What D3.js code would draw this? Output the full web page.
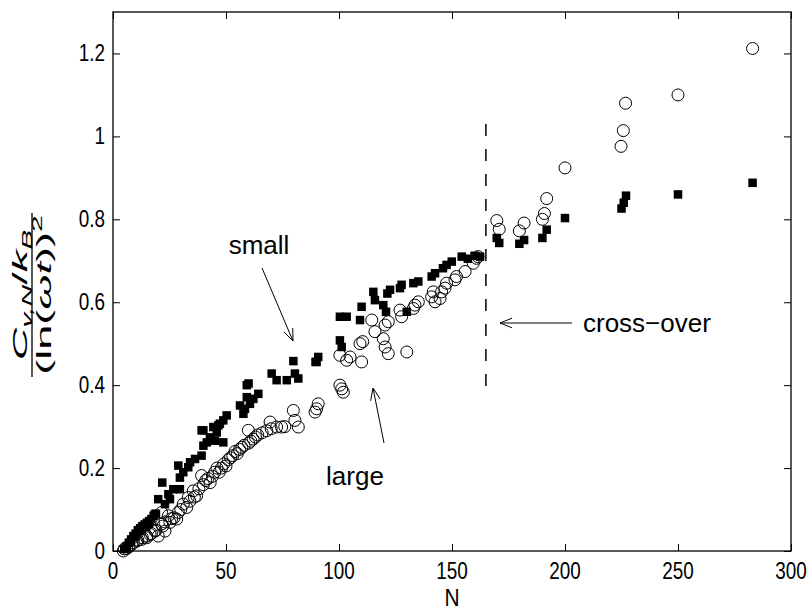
<!DOCTYPE html>
<html>
<head>
<meta charset="utf-8">
<script src="https://cdn.jsdelivr.net/npm/d3@7/dist/d3.min.js"></script>
<style>
  html, body { margin: 0; padding: 0; background: #fff; }
  svg { display: block; }
  text { font-family: "Liberation Sans", Arial, Helvetica, sans-serif; }
</style>
</head>
<body>
<svg id="chart" width="812" height="610"></svg>
<script>
// ---------- data ----------
const xTickValues = [0, 50, 100, 150, 200, 250, 300];
const xTickLabels = ["0", "50", "100", "150", "200", "250", "300"];
const yTickValues = [0, 0.2, 0.4, 0.6, 0.8, 1.0, 1.2];
const yTickLabels = ["0", "0.2", "0.4", "0.6", "0.8", "1", "1.2"];

// "small" series (filled squares)
const smallN = [5,6,6,7,8,8,9,10,10,11,12,12,13,14,14,15,16,16,17,18,18.6,19,20,21.8,23,24.5,25.2,26.7,28.9,29.6,29.6,31.1,33.3,34.1,36.3,39.2,40,39.2,40,41.5,42.9,44.4,45.1,45.9,46.6,47.3,48.8,48.8,50.3,56.2,57.7,58.4,59.2,59.2,60,60.6,62.1,64.3,70.2,72.4,76.9,79.8,80.5,82,89.6,90.1,90.8,100.4,101.2,100.4,103.4,109.3,110,115.2,115.9,119.6,120.8,121.4,122.6,127,127.7,130,132.9,135.1,141,142.5,146,147.6,149.9,154.3,157,160,162.4,169.8,170.9,179.8,181.9,190,191.9,200,225,226,227,250,283];
const smallV = [0.005,0.008,0.012,0.02,0.022,0.028,0.036,0.035,0.042,0.05,0.048,0.055,0.06,0.058,0.064,0.068,0.066,0.072,0.077,0.085,0.089,0.09,0.125,0.165,0.113,0.137,0.125,0.149,0.206,0.149,0.177,0.19,0.202,0.214,0.222,0.23,0.254,0.291,0.291,0.262,0.274,0.299,0.266,0.286,0.303,0.307,0.262,0.315,0.327,0.351,0.331,0.343,0.371,0.40,0.404,0.355,0.367,0.379,0.428,0.412,0.412,0.458,0.428,0.416,0.456,0.456,0.468,0.508,0.492,0.565,0.565,0.557,0.589,0.625,0.605,0.593,0.577,0.621,0.63,0.634,0.642,0.577,0.646,0.65,0.662,0.67,0.682,0.69,0.698,0.71,0.705,0.712,0.71,0.755,0.743,0.741,0.75,0.755,0.775,0.803,0.826,0.84,0.857,0.86,0.888];

// "large" series (open circles)
const largeN = [4.6,5,6.1,7,8.3,9,10.5,11,12.7,13,14.9,15,16.4,17,18.6,19,20,21.5,21.5,22,23,23,24.5,25.2,26,27,28.2,28.9,30,31.1,32.6,33.3,34,35.5,36,37,38,39.2,40,41,42,43,44,45,46,47,48,49,50,51,52,53,54,55,56,57,58,59.9,60,61,62,63,64,66,68,69.5,70,72.4,74.6,76,79.8,80.5,82,89.4,90.1,90.8,100.4,101.2,101.9,100.4,103.4,104.9,109.3,110,110.5,114.5,115.9,119.6,120.4,121.8,120.4,121.8,127,127.7,130,132.9,133.6,135.1,141,141.7,142.5,144.7,145.4,146.9,147.6,151.3,152,155.8,159.4,160.9,161.5,169.8,170.9,179.8,181.9,190,190.9,191.9,200,224.8,225.8,226.8,250,283];
const largeV = [0.0,0.005,0.006,0.01,0.016,0.02,0.024,0.026,0.028,0.032,0.032,0.036,0.04,0.042,0.048,0.05,0.036,0.065,0.093,0.06,0.048,0.07,0.085,0.069,0.078,0.08,0.077,0.093,0.1,0.113,0.105,0.129,0.12,0.145,0.13,0.133,0.15,0.182,0.16,0.17,0.175,0.165,0.18,0.19,0.2,0.19,0.2,0.21,0.205,0.22,0.225,0.23,0.24,0.235,0.245,0.25,0.255,0.291,0.26,0.265,0.27,0.275,0.28,0.285,0.29,0.311,0.295,0.299,0.299,0.3,0.339,0.315,0.299,0.335,0.343,0.355,0.4,0.391,0.383,0.472,0.46,0.468,0.5,0.456,0.505,0.557,0.529,0.512,0.492,0.476,0.545,0.553,0.581,0.565,0.48,0.585,0.593,0.601,0.613,0.625,0.601,0.609,0.625,0.634,0.646,0.654,0.662,0.674,0.694,0.706,0.71,0.797,0.776,0.772,0.791,0.80,0.814,0.85,0.924,0.976,1.014,1.08,1.10,1.212];

const crossOverN = 165;
const crossOverRange = [0.39, 1.03];

// ---------- layout ----------
const W = 812, H = 610;
const margin = { left: 113, right: 21, top: 12, bottom: 59 };
const svg = d3.select("#chart");
const x = d3.scaleLinear().domain([0, 300]).range([margin.left, W - margin.right]);
const y = d3.scaleLinear().domain([0, 1.3]).range([H - margin.bottom, margin.top]);
const tickLen = 7;

// marks: squares first, then circles
const sq = 8.5;
svg.append("g").selectAll("rect").data(smallN.map((n, i) => [n, smallV[i]]))
  .join("rect")
  .attr("x", d => x(d[0]) - sq / 2).attr("y", d => y(d[1]) - sq / 2)
  .attr("width", sq).attr("height", sq).attr("fill", "#000");

svg.append("g").selectAll("circle").data(largeN.map((n, i) => [n, largeV[i]]))
  .join("circle")
  .attr("cx", d => x(d[0])).attr("cy", d => y(d[1])).attr("r", 6)
  .attr("fill", "none").attr("stroke", "#000").attr("stroke-width", 1);

// crossover dashed line
svg.append("line")
  .attr("x1", x(crossOverN)).attr("x2", x(crossOverN))
  .attr("y1", y(crossOverRange[1])).attr("y2", y(crossOverRange[0]))
  .attr("stroke", "#000").attr("stroke-width", 1.5).attr("stroke-dasharray", "12,13");

// axes (MATLAB-style inward ticks on all sides), labels drawn separately
const xAxisB = d3.axisBottom(x).tickValues(xTickValues).tickFormat("").tickSizeInner(-tickLen).tickSizeOuter(0);
const xAxisT = d3.axisTop(x).tickValues(xTickValues).tickFormat("").tickSizeInner(-tickLen).tickSizeOuter(0);
const yAxisL = d3.axisLeft(y).tickValues(yTickValues).tickFormat("").tickSizeInner(-tickLen).tickSizeOuter(0);
const yAxisR = d3.axisRight(y).tickValues(yTickValues).tickFormat("").tickSizeInner(-tickLen).tickSizeOuter(0);
function styleAxis(g) {
  g.select(".domain").remove();
  g.selectAll(".tick line").attr("stroke", "#000").attr("stroke-width", 1);
  g.selectAll(".tick text").remove();
}
svg.append("g").attr("transform", `translate(0,${y(0)})`).call(xAxisB).call(styleAxis);
svg.append("g").attr("transform", `translate(0,${y(1.3)})`).call(xAxisT).call(styleAxis);
svg.append("g").attr("transform", `translate(${x(0)},0)`).call(yAxisL).call(styleAxis);
svg.append("g").attr("transform", `translate(${x(300)},0)`).call(yAxisR).call(styleAxis);

// tick labels
svg.append("g").selectAll("text").data(xTickValues).join("text")
  .attr("transform", d => `translate(${x(d)},${y(0) + 28}) scale(0.9,1.15)`)
  .attr("text-anchor", "middle").style("font-size", "21px")
  .text((d, i) => xTickLabels[i]);
svg.append("g").selectAll("text").data(yTickValues).join("text")
  .attr("transform", d => `translate(${x(0) - 8},${y(d) + 8}) scale(0.9,1.15)`)
  .attr("text-anchor", "end").style("font-size", "21px")
  .text((d, i) => yTickLabels[i]);

// box
svg.append("rect").attr("x", x(0)).attr("y", y(1.3))
  .attr("width", x(300) - x(0)).attr("height", y(0) - y(1.3))
  .attr("fill", "none").attr("stroke", "#000").attr("stroke-width", 1.3);

// x label
svg.append("text").attr("transform", `translate(${x(150)},606) scale(0.95,1.1)`).attr("text-anchor", "middle")
  .style("font-size", "22px").text("N");

// y label (fraction), elongated along its length like the reference
const yl = svg.append("g").attr("transform", `translate(32,295) rotate(-90) scale(2.15,1)`)
  .style("font-family", "'Liberation Serif', 'DejaVu Serif', serif");
const num = yl.append("text").attr("text-anchor", "middle").attr("y", -5).style("font-size", "21px");
num.append("tspan").style("font-style", "italic").text("C");
num.append("tspan").attr("dy", 5).style("font-size", "14px").style("font-style", "italic").text("v,N");
num.append("tspan").attr("dy", -5).text("/");
num.append("tspan").style("font-style", "italic").text("k");
num.append("tspan").attr("dy", 5).style("font-size", "14px").style("font-style", "italic").text("B");
const den = yl.append("text").attr("text-anchor", "middle").attr("y", 19).style("font-size", "21px");
den.append("tspan").text("(ln(");
den.append("tspan").style("font-style", "italic").text("ωt");
den.append("tspan").text("))");
den.append("tspan").attr("dy", -9).style("font-size", "14px").text("2");
const bw = Math.max(num.node().getComputedTextLength(), den.node().getComputedTextLength()) + 2;
yl.append("line").attr("x1", -bw / 2).attr("x2", bw / 2).attr("y1", 0).attr("y2", 0)
  .attr("stroke", "#000").attr("stroke-width", 1.3);

// annotations
function arrow(x1, y1, x2, y2) {
  svg.append("line").attr("x1", x1).attr("y1", y1).attr("x2", x2).attr("y2", y2)
    .attr("stroke", "#000").attr("stroke-width", 1);
  const a = Math.atan2(y2 - y1, x2 - x1), L = 13, s = 0.38;
  const p1 = [x2 - L * Math.cos(a - s), y2 - L * Math.sin(a - s)];
  const p2 = [x2 - L * Math.cos(a + s), y2 - L * Math.sin(a + s)];
  svg.append("path").attr("d", `M${p1}L${x2},${y2}L${p2}`).attr("fill", "none")
    .attr("stroke", "#000").attr("stroke-width", 1);
}
svg.append("text").attr("x", 259).attr("y", 254).attr("text-anchor", "middle").style("font-size", "26px").text("small");
arrow(262, 268, 293, 341);
svg.append("text").attr("x", 355).attr("y", 485).attr("text-anchor", "middle").style("font-size", "26px").text("large");
arrow(384, 443, 373, 388);
svg.append("text").attr("x", 583).attr("y", 332).attr("text-anchor", "start").style("font-size", "26px").text("cross\u2212over");
arrow(572, 323, 500, 323);
</script>
</body>
</html>
